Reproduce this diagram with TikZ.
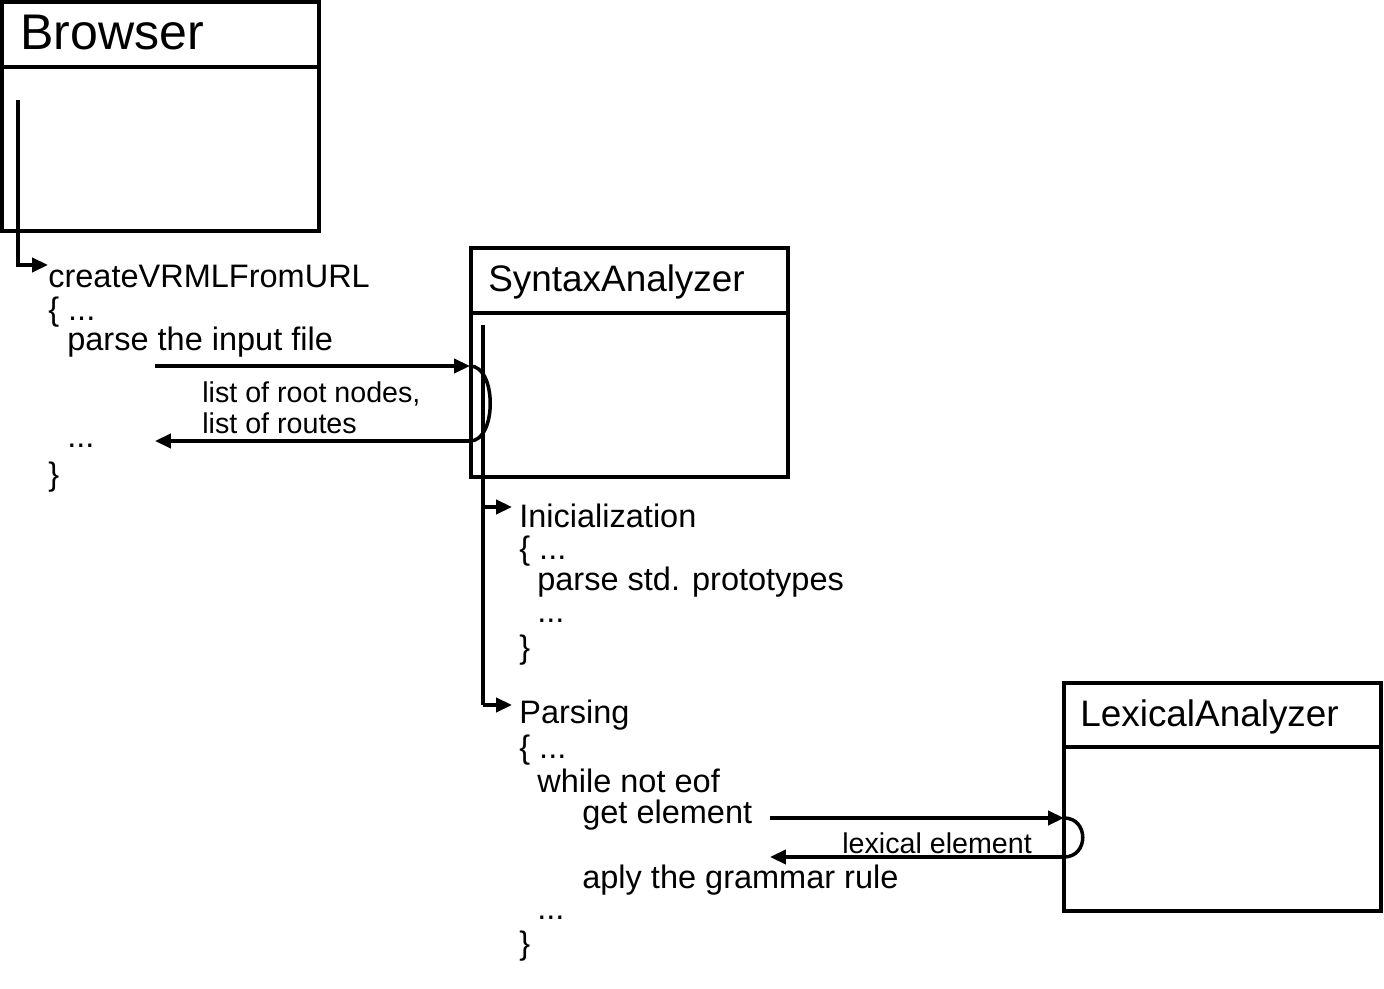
\documentclass[tikz,border=0pt]{standalone}
\usepackage{fontspec}
\setmainfont{Liberation Sans}
\usetikzlibrary{arrows.meta}
\tikzset{
  box/.style={draw, line width=2pt},
  life/.style={line width=2pt},
  msg/.style={line width=2pt, -{Triangle[length=9pt,width=8pt]}},
  code/.style={anchor=west, inner sep=0pt, font=\fontsize{18.5}{21}\selectfont},
  title/.style={anchor=west, inner sep=0pt, font=\fontsize{21}{24}\selectfont},
  small/.style={anchor=west, inner sep=0pt, font=\fontsize{16.3}{18}\selectfont}
}
\begin{document}
\begin{tikzpicture}[x=0.02cm, y=-0.02cm]
				\useasboundingbox (0,0) rectangle (1384,989);

				% Browser
				\draw[box] (2,2) rectangle (319,231);
				\draw[box] (2,67) -- (319,67);
				\node[anchor=west, inner sep=0pt, font=\fontsize{28.5}{32}\selectfont] (browser) at (20,33) {Browser};
				\coordinate (bTop) at (18,100);
				\coordinate (bBend) at (18,265);
				\coordinate (bEnd) at (48,265);
				\draw[msg] (bTop) -- (bBend) -- (bEnd);

				\node[code] (create) at (48,276) {createVRMLFromURL};
				\node[code] (c1) at (48,312) {\{ ...};
				\node[code] (c2) at (67,342) {parse the input file};
				\node[code] (c3) at (67,446) {...};
				\node[code] (c4) at (48,477) {\}};

				% SyntaxAnalyzer
				\draw[box] (471,248) rectangle (788,477);
				\draw[box] (471,313) -- (788,313);
				\node[title] (syntax) at (488,282) {SyntaxAnalyzer};
				\coordinate (sTop) at (483,325);
				\coordinate (sMid) at (483,507);
				\coordinate (sBot) at (483,705);
				\coordinate (sIni) at (512,507);
				\coordinate (sPar) at (512,705);
				\draw[life] (sTop) -- (sBot);
				\draw[msg] (sMid) -- (sIni);
				\draw[msg] (sBot) -- (sPar);

				\coordinate (pFrom) at (155,366);
				\coordinate (pTo) at (470,366);
				\coordinate (rFrom) at (470,441);
				\coordinate (rTo) at (155,441);
				\draw[msg] (pFrom) -- (pTo);
				\draw[life] (pTo) .. controls (497,366) and (497,441) .. (rFrom);
				\draw[msg] (rFrom) -- (rTo);
				\node[small] (roots) at (202,394) {list of root nodes,};
				\node[small] (routes) at (202,423) {list of routes};

				\node[code] (ini) at (519,516) {Inicialization};
				\node[code] (i1) at (519,551) {\{ ...};
				\node[code] (i2) at (537,582) {parse std. prototypes};
				\node[code] (i3) at (537,621) {...};
				\node[code] (i4) at (519,650) {\}};

				\node[code] (par) at (519,715) {Parsing};
				\node[code] (p1) at (519,750) {\{ ...};
				\node[code] (p2) at (537,781) {while not eof};
				\node[code] (p3) at (582,815) {get element};
				\node[code] (p4) at (582,880) {aply the grammar rule};
				\node[code] (p5) at (537,918) {...};
				\node[code] (p6) at (519,946) {\}};

				% LexicalAnalyzer
				\draw[box] (1064,683) rectangle (1381,911);
				\draw[box] (1064,747) -- (1381,747);
				\node[title] (lexical) at (1080,717) {LexicalAnalyzer};
				\coordinate (gFrom) at (770,818);
				\coordinate (gTo) at (1064,818);
				\coordinate (eFrom) at (1064,857);
				\coordinate (eTo) at (770,857);
				\draw[msg] (gFrom) -- (gTo);
				\draw[life] (gTo) .. controls (1089,818) and (1089,857) .. (eFrom);
				\draw[msg] (eFrom) -- (eTo);
				\node[small] (elem) at (842,843) {lexical element};
\end{tikzpicture}
\end{document}
